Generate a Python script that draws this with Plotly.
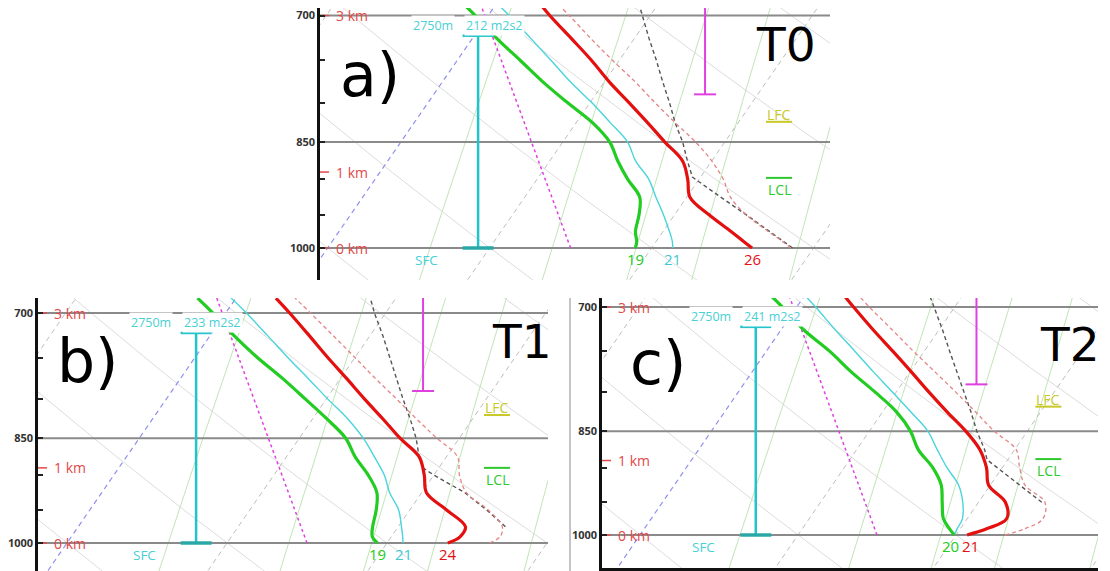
import numpy as np
import plotly.graph_objects as go

# ---------------- data (pressure in hPa, temperature in deg C) ----------------
P_ENV = [1000, 990, 975, 950, 925, 900, 875, 850, 825, 800, 775, 750, 725, 700, 684]

# panel a (T0)
T_A  = [26.2, 25.4, 24.2, 22.1, 20.2, 19.3, 18.2, 16.3, 14.4, 12.4, 10.3, 8.3, 6.1, 3.8, 2.4]
TD_A = [19.0, 18.8, 18.3, 17.8, 17.1, 15.6, 14.2, 12.9, 11.0, 8.6, 6.2, 3.9, 1.5, -0.8, -2.4]
TW_A = [21.3, 21.0, 20.4, 19.3, 18.1, 16.9, 15.3, 14.0, 12.1, 10.1, 7.9, 5.8, 3.6, 1.3, -0.3]
TV_A = [28.6, 27.8, 26.5, 24.4, 22.7, 21.5, 20.0, 18.2, 16.1, 14.0, 11.9, 9.6, 7.3, 5.0, 3.4]
P_PAR_A = [1000, 975, 950, 925, 900, 897, 875, 850, 825, 800, 775, 750, 725, 700, 684]
TP_A    = [28.7, 26.6, 24.4, 22.1, 19.8, 19.5, 18.5, 17.4, 16.1, 14.9, 13.6, 12.3, 10.9, 9.5, 8.6]

# panel b (T1)
T_B  = [23.8, 24.3, 24.2, 22.3, 20.3, 19.4, 18.3, 16.3, 14.4, 12.4, 10.4, 8.3, 6.2, 4.0, 2.5]
TD_B = [19.4, 18.8, 18.4, 17.9, 17.2, 15.9, 14.3, 12.9, 10.9, 8.7, 6.4, 3.9, 1.5, -0.8, -2.4]
TW_B = [21.0, 20.7, 20.2, 19.3, 18.0, 16.9, 15.5, 14.0, 12.2, 10.1, 8.0, 5.8, 3.6, 1.3, -0.3]
TV_B = [26.4, 26.8, 26.5, 24.9, 22.8, 21.6, 20.7, 18.6, 16.5, 14.4, 12.2, 10.0, 7.7, 5.3, 3.7]
P_PAR_B = [975, 950, 925, 900, 890, 875, 850, 825, 800, 775, 750, 725, 700, 684]
TP_B    = [26.7, 24.8, 22.7, 20.0, 19.0, 18.3, 17.3, 16.1, 14.8, 13.5, 12.2, 10.8, 9.3, 8.4]

# panel c (T2)
T_C  = [20.7, 21.7, 22.5, 21.7, 19.9, 19.0, 17.8, 16.1, 14.1, 12.1, 10.1, 8.0, 5.8, 3.6, 2.2]
TD_C = [19.9, 19.3, 18.5, 17.7, 16.9, 15.6, 13.9, 12.6, 10.9, 8.7, 6.3, 4.0, 1.4, -0.9, -2.5]
TW_C = [19.9, 19.8, 19.7, 19.0, 18.0, 16.5, 15.1, 13.7, 11.8, 9.8, 7.7, 5.6, 3.4, 1.2, -0.3]
TV_C = [23.1, 24.1, 24.8, 24.2, 22.2, 21.1, 20.1, 17.9, 15.9, 13.8, 11.6, 9.3, 7.0, 4.6, 3.1]
P_PAR_C = [950, 925, 900, 889, 875, 850, 825, 800, 775, 750, 725, 700, 684]
TP_C    = [24.0, 21.9, 19.7, 18.7, 18.1, 16.8, 15.6, 14.3, 13.0, 11.6, 10.2, 8.7, 7.7]

MAG_DASH_P = [1000, 684]
MAG_DASH_T = [15.0, -1.2]

PANEL_TAGS = ["a)", "b)", "c)"]
TIME_TAGS = ["T0", "T1", "T2"]
HELICITY = [212, 233, 241]          # m2/s2
HEL_TOP_P = 722
HEL_TOP_TXT = "2750m"
LCL_P = [898, 890, 888]
LFC_P = [824, 820, 818]
MAG_BAR_P = 790
HGT_P = [1000, 890, 700]
HGT_TXT = ["0 km", "1 km", "3 km"]
P_TICKS = [700, 750, 800, 850, 900, 950, 1000]
P_LABELS = ["700", "", "", "850", "", "", "1000"]
P_MAIN = [700, 850, 1000]
ISOTHERMS = list(range(-50, 61, 10))
DRY_ADIABATS = list(range(-40, 81, 10))   # T at 1000 hPa
MIX_RATIOS = [6, 10, 14, 18, 26]          # g/kg

PROFILES = [
    dict(T=T_A, TD=TD_A, TW=TW_A, TV=TV_A, PP=P_PAR_A, TP=TP_A, sfc=["TD", "TW", "T"]),
    dict(T=T_B, TD=TD_B, TW=TW_B, TV=TV_B, PP=P_PAR_B, TP=TP_B, sfc=["TD", "TW", "T"]),
    dict(T=T_C, TD=TD_C, TW=TW_C, TV=TV_C, PP=P_PAR_C, TP=TP_C, sfc=["TD", "T"]),
]

# ---------------- layout geometry ----------------
W, H = 1110, 571
K = 27.8   # skew (deg C per ln-pressure unit)
CFG = [
    dict(px=(320, 830), py=(8, 280), x0=327.6, s=16.2, y1000=248, ppl=651.8,
         tag=(0.098, 0.754), tt=(0.914, 0.864), xline=False, lshift=dict(TD=0, TW=0, T=0)),
    dict(px=(38, 548), py=(298, 571), x0=67.0, s=16.0, y1000=543, ppl=644.8,
         tag=(0.098, 0.769), tt=(0.949, 0.839), xline=False, lshift=dict(TD=0, TW=0, T=0)),
    dict(px=(602, 1098), py=(298, 568), x0=640.0, s=15.8, y1000=535, ppl=639.0,
         tag=(0.113, 0.759), tt=(0.944, 0.826), xline=True, lshift=dict(TD=-4, TW=0, T=3)),
]

C_RED = "#e41010"
C_GREEN = "#22cc22"
C_CYAN = "#48d4dc"
C_HEL = "#22c4cc"
C_MAG = "#e040e0"
C_TXT_RED = "#e34848"


def skx(T, P):
    return np.asarray(T, float) + K * np.log(1000.0 / np.asarray(P, float))


def td_from_w(w, p):
    e = w * p / (622.0 + w)
    a = np.log(e / 6.112)
    return 243.5 * a / (17.67 - a)


fig = go.Figure()
annotations = []
pgrid = np.geomspace(640, 1100, 60)

for i, (cfg, prof) in enumerate(zip(CFG, PROFILES)):
    sfx = "" if i == 0 else str(i + 1)
    xa, ya = "x" + sfx, "y" + sfx
    px0, px1 = cfg["px"]
    py0, py1 = cfg["py"]
    s = cfg["s"]
    xmin = (px0 - cfg["x0"]) / s
    xmax = (px1 - cfg["x0"]) / s
    ptop = 1000 * np.exp(-(cfg["y1000"] - py0) / cfg["ppl"])
    pbot = 1000 * np.exp((py1 - cfg["y1000"]) / cfg["ppl"])

    fig.update_layout(**{
        "xaxis" + sfx: dict(domain=[px0 / W, px1 / W], range=[xmin, xmax], anchor=ya,
                            showgrid=False, zeroline=False, showticklabels=False, ticks="",
                            showline=cfg["xline"], linecolor="#111", linewidth=2.5,
                            automargin=False, fixedrange=True),
        "yaxis" + sfx: dict(domain=[1 - py1 / H, 1 - py0 / H], type="log",
                            range=[np.log10(pbot), np.log10(ptop)], anchor=xa,
                            tickvals=P_TICKS, ticktext=P_LABELS, ticks="inside", ticklen=5,
                            tickwidth=1.5, tickcolor="#222", showline=True, linecolor="#111",
                            linewidth=2.5, showgrid=False, zeroline=False, automargin=False,
                            tickfont=dict(family="Open Sans", size=11, color="#333", weight="bold"),
                            fixedrange=True),
    })

    def add(x, y, color, width, dash="solid", shape="linear"):
        fig.add_trace(go.Scatter(x=x, y=y, mode="lines",
                                 line=dict(color=color, width=width, dash=dash, shape=shape),
                                 xaxis=xa, yaxis=ya, showlegend=False, hoverinfo="skip"))

    # background: dry adiabats, mixing ratio lines, isotherms
    for t0 in DRY_ADIABATS:
        tt = (t0 + 273.15) * (pgrid / 1000.0) ** 0.2857 - 273.15
        add(skx(tt, pgrid), pgrid, "#dcdcdc", 1)
    for w in MIX_RATIOS:
        add(skx(td_from_w(w, pgrid), pgrid), pgrid, "#bfe6b6", 1)
    for t0 in ISOTHERMS:
        if t0 == 0:
            continue
        add(skx(np.full_like(pgrid, t0), pgrid), pgrid, "#bdbdbd", 1, "5px,4px")
    add(skx(np.zeros_like(pgrid), pgrid), pgrid, "#8f8ff0", 1.2, "5px,4px")

    # main pressure lines
    for p in P_MAIN:
        add([xmin, xmax], [p, p], "#8a8a8a", 2)

    # height ticks (red)
    for p, txt in zip(HGT_P, HGT_TXT):
        add([xmin, xmin + 9 / s], [p, p], C_TXT_RED, 1.5)
        annotations.append(dict(xref=xa + " domain", yref=ya, x=0, y=np.log10(p), xshift=14,
                                xanchor="left", yanchor="middle", text=txt, showarrow=False,
                                font=dict(family="Open Sans", size=14, color=C_TXT_RED)))

    # magenta dashed line
    add(skx(MAG_DASH_T, MAG_DASH_P), MAG_DASH_P, C_MAG, 1.5, "3px,3px")

    # parcel / virtual temperature
    add(skx(prof["TP"], prof["PP"]), prof["PP"], "#555555", 1.4, "4px,3px")
    add(skx(prof["TV"], P_ENV), P_ENV, "#e38585", 1.3, "4px,3px", "spline")

    # profiles
    add(skx(prof["TW"], P_ENV), P_ENV, C_CYAN, 1.4, "solid", "spline")
    add(skx(prof["TD"], P_ENV), P_ENV, C_GREEN, 3.2, "solid", "spline")
    add(skx(prof["T"], P_ENV), P_ENV, C_RED, 3.2, "solid", "spline")

    # helicity bar (fixed position in the panel)
    xh = xmin + 0.31 * (xmax - xmin)
    add([xh, xh], [1000, HEL_TOP_P], C_HEL, 2.5)
    add([xh - 15.5 / s, xh + 15.5 / s], [HEL_TOP_P, HEL_TOP_P], C_HEL, 2.5)
    add([xh - 15.5 / s, xh + 15.5 / s], [1000, 1000], "#2aa8a8", 3.5)
    annotations.append(dict(xref=xa, yref=ya, x=xh, y=np.log10(HEL_TOP_P), xshift=-45, yshift=10,
                            xanchor="center", yanchor="middle", text=HEL_TOP_TXT, showarrow=False,
                            bgcolor="white", borderpad=1,
                            font=dict(family="Open Sans", size=12.5, color="#48d0d4")))
    annotations.append(dict(xref=xa, yref=ya, x=xh, y=np.log10(HEL_TOP_P), xshift=-14, yshift=10,
                            xanchor="left", yanchor="middle", text=f"{HELICITY[i]} m2s2",
                            showarrow=False, bgcolor="white", borderpad=1,
                            font=dict(family="Open Sans", size=12.5, color="#48d0d4")))
    annotations.append(dict(xref=xa, yref=ya, x=xh, y=3.0, xshift=-52, yshift=-12,
                            xanchor="center", yanchor="middle", text="SFC", showarrow=False,
                            font=dict(family="Open Sans", size=13.5, color="#48d0d4")))

    # magenta bar
    xm = xmin + 0.755 * (xmax - xmin)
    add([xm, xm], [ptop, MAG_BAR_P], C_MAG, 2)
    add([xm - 11 / s, xm + 11 / s], [MAG_BAR_P, MAG_BAR_P], C_MAG, 2)

    # LCL / LFC markers
    xl = xmin + 0.90 * (xmax - xmin)
    add([xl - 13 / s, xl + 13 / s], [LCL_P[i], LCL_P[i]], "#2ec82e", 2)
    add([xl - 13 / s, xl + 13 / s], [LFC_P[i], LFC_P[i]], "#c8c826", 2)
    annotations.append(dict(xref=xa, yref=ya, x=xl, y=np.log10(LCL_P[i]), xanchor="center",
                            yanchor="top", yshift=0, text="LCL", showarrow=False,
                            font=dict(family="Open Sans", size=14, color="#2ec82e")))
    annotations.append(dict(xref=xa, yref=ya, x=xl, y=np.log10(LFC_P[i]), xanchor="center",
                            yanchor="bottom", yshift=-4, text="LFC", showarrow=False,
                            font=dict(family="Open Sans", size=14, color="#c8c826")))

    # surface value labels
    colors = dict(T=C_RED, TD=C_GREEN, TW="#40c8d0")
    for key in prof["sfc"]:
        v = prof[key][0]
        annotations.append(dict(xref=xa, yref=ya, x=v, y=3.0, yshift=-11,
                                xshift=cfg["lshift"][key], xanchor="center",
                                yanchor="middle", text=str(int(round(v))), showarrow=False,
                                font=dict(family="Open Sans", size=15, color=colors[key])))

    # big panel tags
    annotations.append(dict(xref=xa + " domain", yref=ya + " domain", x=cfg["tag"][0],
                            y=cfg["tag"][1], xanchor="center", yanchor="middle",
                            text=PANEL_TAGS[i], showarrow=False,
                            font=dict(family="DejaVu Sans", size=60, color="black")))
    annotations.append(dict(xref=xa + " domain", yref=ya + " domain", x=cfg["tt"][0],
                            y=cfg["tt"][1], xanchor="center", yanchor="middle",
                            text=TIME_TAGS[i], showarrow=False,
                            font=dict(family="DejaVu Sans", size=47, color="black")))

fig.update_layout(
    width=W, height=H, margin=dict(l=0, r=0, t=0, b=0),
    paper_bgcolor="white", plot_bgcolor="white", showlegend=False,
    annotations=annotations,
    shapes=[dict(type="line", xref="paper", yref="paper", x0=570 / W, x1=570 / W,
                 y0=0, y1=1 - 298 / H, line=dict(color="#b0b0b0", width=1.5))],
)

fig.write_html("out.html")
